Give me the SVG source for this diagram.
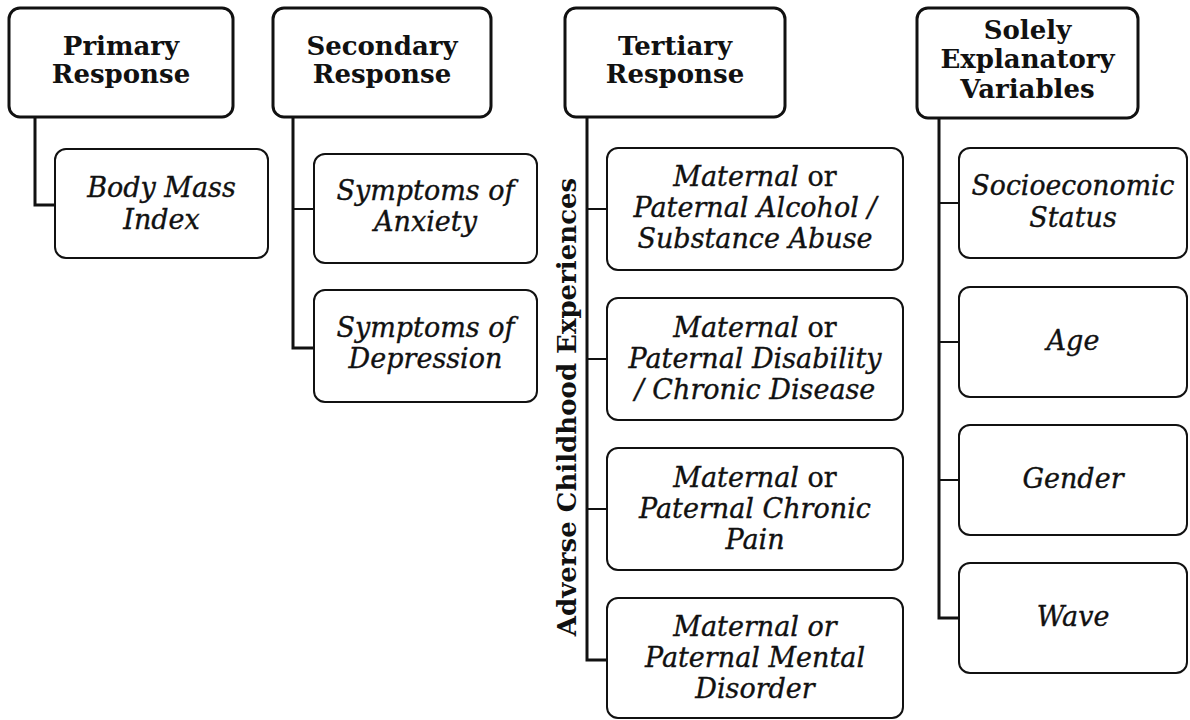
<svg xmlns="http://www.w3.org/2000/svg" width="1190" height="720" viewBox="0 0 1190 720">
  <style>
    .bg { fill: #ffffff; }
    .head rect { fill: #ffffff; stroke: #111111; stroke-width: 3; }
    .item rect { fill: #ffffff; stroke: #111111; stroke-width: 2; }
    .head text { font-family: "DejaVu Serif", "Liberation Serif", serif; font-weight: bold; font-size: 26px; fill: #111111; text-anchor: middle; }
    .item text { font-family: "DejaVu Serif", "Liberation Serif", serif; font-style: italic; font-size: 27px; fill: #111111; stroke: #111111; stroke-width: 0.35; text-anchor: middle; }
    .up { font-style: normal; }
    .spine { fill: none; stroke: #111111; stroke-width: 3; }
    .stub { fill: none; stroke: #111111; stroke-width: 2; }
    .side { font-family: "DejaVu Serif", "Liberation Serif", serif; font-weight: bold; font-size: 26px; fill: #111111; text-anchor: middle; }
  </style>
  <rect class="bg" x="0" y="0" width="1190" height="720"/>

  <!-- connectors: one spine per column, ending in the elbow to its last box -->
  <g id="connectors">
    <path class="spine" d="M35 117 V205 H55"/>
    <path class="spine" d="M293 117 V348 H314"/>
    <line class="stub" x1="293" y1="209" x2="314" y2="209"/>
    <path class="spine" d="M587 117 V660 H607"/>
    <line class="stub" x1="587" y1="209" x2="607" y2="209"/>
    <line class="stub" x1="587" y1="359" x2="607" y2="359"/>
    <line class="stub" x1="587" y1="509" x2="607" y2="509"/>
    <path class="spine" d="M939 118 V618 H959"/>
    <line class="stub" x1="939" y1="203" x2="959" y2="203"/>
    <line class="stub" x1="939" y1="342" x2="959" y2="342"/>
    <line class="stub" x1="939" y1="480" x2="959" y2="480"/>
  </g>

  <!-- column headers -->
  <g id="primary" class="head">
    <rect x="9" y="8" width="224" height="109" rx="11"/>
    <text x="121" y="55">Primary</text>
    <text x="121" y="83">Response</text>
  </g>
  <g id="secondary" class="head">
    <rect x="273" y="8" width="218" height="109" rx="11"/>
    <text x="382" y="55">Secondary</text>
    <text x="382" y="83">Response</text>
  </g>
  <g id="tertiary" class="head">
    <rect x="565" y="8" width="220" height="109" rx="11"/>
    <text x="675" y="55">Tertiary</text>
    <text x="675" y="83">Response</text>
  </g>
  <g id="explanatory" class="head">
    <rect x="917" y="8" width="221" height="110" rx="11"/>
    <text x="1027.5" y="39">Solely</text>
    <text x="1027.5" y="68">Explanatory</text>
    <text x="1027.5" y="98">Variables</text>
  </g>

  <!-- primary response -->
  <g id="bmi" class="item">
    <rect x="55" y="149" width="213" height="109" rx="11"/>
    <text x="161.5" y="197">Body Mass</text>
    <text x="161.5" y="229">Index</text>
  </g>

  <!-- secondary responses -->
  <g id="anxiety" class="item">
    <rect x="314" y="154" width="223" height="109" rx="11"/>
    <text x="425.5" y="200">Symptoms of</text>
    <text x="425.5" y="231">Anxiety</text>
  </g>
  <g id="depression" class="item">
    <rect x="314" y="290" width="223" height="112" rx="11"/>
    <text x="425.5" y="337">Symptoms of</text>
    <text x="425.5" y="368">Depression</text>
  </g>

  <!-- vertical group label beside the tertiary spine -->
  <g id="ace-label">
    <text class="side" transform="translate(576 407) rotate(-90)">Adverse Childhood Experiences</text>
  </g>

  <!-- tertiary responses -->
  <g id="alcohol" class="item">
    <rect x="607" y="148" width="296" height="122" rx="11"/>
    <text x="755" y="186">Maternal <tspan class="up">or</tspan></text>
    <text x="755" y="217">Paternal Alcohol /</text>
    <text x="755" y="248">Substance Abuse</text>
  </g>
  <g id="disability" class="item">
    <rect x="607" y="298" width="296" height="122" rx="11"/>
    <text x="755" y="337">Maternal <tspan class="up">or</tspan></text>
    <text x="755" y="368">Paternal Disability</text>
    <text x="755" y="399">/ Chronic Disease</text>
  </g>
  <g id="pain" class="item">
    <rect x="607" y="448" width="296" height="122" rx="11"/>
    <text x="755" y="487">Maternal <tspan class="up">or</tspan></text>
    <text x="755" y="518">Paternal Chronic</text>
    <text x="755" y="549">Pain</text>
  </g>
  <g id="mental" class="item">
    <rect x="607" y="598" width="296" height="120" rx="11"/>
    <text x="755" y="636">Maternal or</text>
    <text x="755" y="667">Paternal Mental</text>
    <text x="755" y="698">Disorder</text>
  </g>

  <!-- explanatory variables -->
  <g id="ses" class="item">
    <rect x="959" y="148" width="228" height="110" rx="11"/>
    <text x="1073" y="195" textLength="203" lengthAdjust="spacingAndGlyphs">Socioeconomic</text>
    <text x="1073" y="227">Status</text>
  </g>
  <g id="age" class="item">
    <rect x="959" y="287" width="228" height="110" rx="11"/>
    <text x="1073" y="350">Age</text>
  </g>
  <g id="gender" class="item">
    <rect x="959" y="425" width="228" height="110" rx="11"/>
    <text x="1073" y="488">Gender</text>
  </g>
  <g id="wave" class="item">
    <rect x="959" y="563" width="228" height="110" rx="11"/>
    <text x="1073" y="626">Wave</text>
  </g>
</svg>
